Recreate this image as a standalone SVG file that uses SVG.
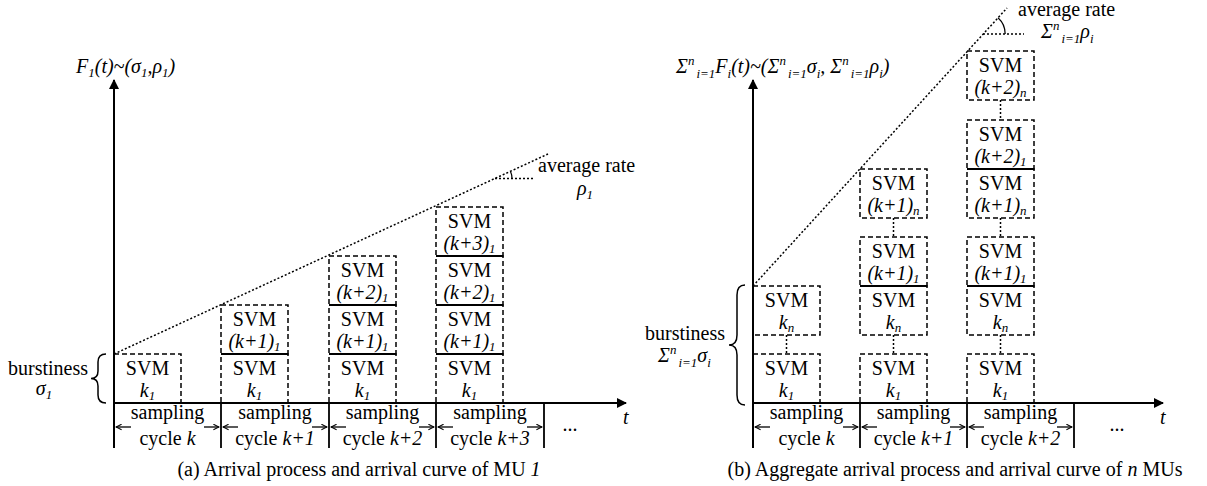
<svg xmlns="http://www.w3.org/2000/svg" width="1207" height="486" viewBox="0 0 1207 486" font-family="'Liberation Serif', 'DejaVu Serif', serif">
<defs>
<marker id="ah" viewBox="0 0 10 10" refX="9" refY="5" markerWidth="10" markerHeight="10" markerUnits="userSpaceOnUse" orient="auto"><path d="M0,0 L10,5 L0,10 z" fill="#000"/></marker>
<marker id="sa" viewBox="0 0 10 10" refX="9" refY="5" markerWidth="7" markerHeight="7" markerUnits="userSpaceOnUse" orient="auto"><path d="M1,1 L9,5 L1,9" fill="none" stroke="#000" stroke-width="1.5"/></marker>
</defs>
<style>
text{font-family:'Liberation Serif','DejaVu Serif',serif;font-size:20px;fill:#000}
.c{text-anchor:middle}
.i{font-style:italic}
.s{font-size:13px}
.box{fill:none;stroke:#000;stroke-width:1.5;stroke-dasharray:5,3}
.div{stroke:#000;stroke-width:1.8}
.dot{fill:none;stroke:#000;stroke-width:1.5;stroke-dasharray:2,2}
.ax{fill:none;stroke:#000;stroke-width:2}
.cyc{stroke:#000;stroke-width:1.8}
.sa{stroke:#000;stroke-width:1.3;marker-end:url(#sa)}
</style>
<rect width="1207" height="486" fill="#fff"/>

<!-- ===== Panel (a) ===== -->
<g id="connectors-a">
<line class="ax" x1="114" y1="448" x2="114" y2="80" marker-end="url(#ah)"/>
<line class="ax" x1="114" y1="403" x2="626" y2="403" marker-end="url(#ah)"/>
<line class="cyc" x1="221" y1="403" x2="221" y2="448"/>
<line class="cyc" x1="329" y1="403" x2="329" y2="448"/>
<line class="cyc" x1="436" y1="403" x2="436" y2="448"/>
<line class="cyc" x1="544" y1="403" x2="544" y2="448"/>
<line class="dot" x1="114" y1="354" x2="548" y2="154"/>
<line class="dot" x1="495" y1="178.4" x2="533" y2="178.4"/>
<path d="M510.4,171.3 A17,17 0 0,1 512,178.4" fill="none" stroke="#000" stroke-width="1.2"/>
<path d="M106,354 Q98,354 98,362 L98,371 Q98,378.5 91,378.5 Q98,378.5 98,386 L98,395 Q98,403 106,403" fill="none" stroke="#000" stroke-width="1.5"/>
<line class="sa" x1="131" y1="427" x2="116" y2="427"/>
<line class="sa" x1="204" y1="427" x2="219" y2="427"/>
<line class="sa" x1="238" y1="427" x2="223" y2="427"/>
<line class="sa" x1="312" y1="427" x2="327" y2="427"/>
<line class="sa" x1="346" y1="427" x2="331" y2="427"/>
<line class="sa" x1="419" y1="427" x2="434" y2="427"/>
<line class="sa" x1="453" y1="427" x2="438" y2="427"/>
<line class="sa" x1="527" y1="427" x2="542" y2="427"/>
</g>

<g id="label-a">
<text x="76" y="73" class="i">F<tspan class="s" dy="4">1</tspan><tspan dy="-4">(t)~(σ</tspan><tspan class="s" dy="4">1</tspan><tspan dy="-4">,ρ</tspan><tspan class="s" dy="4">1</tspan><tspan dy="-4">)</tspan></text>
<text x="538" y="172">average rate</text>
<text x="577" y="195" class="i">ρ<tspan class="s" dy="4">1</tspan></text>
<text x="48" y="375" class="c">burstiness</text>
<text x="44" y="395" class="c i">σ<tspan class="s" dy="4">1</tspan></text>
<text x="623" y="424" class="i">t</text>
<text x="570" y="431" class="c">...</text>
</g>

<g id="a-col1">
<rect class="box" x="114" y="354" width="67" height="49"/>
<text x="147.5" y="375" class="c">SVM</text>
<text x="147.5" y="397" class="c i">k<tspan class="s" dy="3">1</tspan></text>
</g>
<g id="a-col2">
<rect class="box" x="221" y="354" width="67" height="49"/>
<rect class="box" x="221" y="305" width="67" height="49"/>
<line class="div" x1="221" y1="354" x2="288" y2="354"/>
<text x="254.5" y="326" class="c">SVM</text>
<text x="254.5" y="348" class="c i">(k+1)<tspan class="s" dy="3">1</tspan></text>
<text x="254.5" y="375" class="c">SVM</text>
<text x="254.5" y="397" class="c i">k<tspan class="s" dy="3">1</tspan></text>
</g>
<g id="a-col3">
<rect class="box" x="329" y="354" width="67" height="49"/>
<rect class="box" x="329" y="305" width="67" height="49"/>
<rect class="box" x="329" y="256" width="67" height="49"/>
<line class="div" x1="329" y1="354" x2="396" y2="354"/>
<line class="div" x1="329" y1="305" x2="396" y2="305"/>
<text x="362.5" y="277" class="c">SVM</text>
<text x="362.5" y="299" class="c i">(k+2)<tspan class="s" dy="3">1</tspan></text>
<text x="362.5" y="326" class="c">SVM</text>
<text x="362.5" y="348" class="c i">(k+1)<tspan class="s" dy="3">1</tspan></text>
<text x="362.5" y="375" class="c">SVM</text>
<text x="362.5" y="397" class="c i">k<tspan class="s" dy="3">1</tspan></text>
</g>
<g id="a-col4">
<rect class="box" x="436" y="354" width="67" height="49"/>
<rect class="box" x="436" y="305" width="67" height="49"/>
<rect class="box" x="436" y="256" width="67" height="49"/>
<rect class="box" x="436" y="207" width="67" height="49"/>
<line class="div" x1="436" y1="354" x2="503" y2="354"/>
<line class="div" x1="436" y1="305" x2="503" y2="305"/>
<line class="div" x1="436" y1="256" x2="503" y2="256"/>
<text x="469.5" y="228" class="c">SVM</text>
<text x="469.5" y="250" class="c i">(k+3)<tspan class="s" dy="3">1</tspan></text>
<text x="469.5" y="277" class="c">SVM</text>
<text x="469.5" y="299" class="c i">(k+2)<tspan class="s" dy="3">1</tspan></text>
<text x="469.5" y="326" class="c">SVM</text>
<text x="469.5" y="348" class="c i">(k+1)<tspan class="s" dy="3">1</tspan></text>
<text x="469.5" y="375" class="c">SVM</text>
<text x="469.5" y="397" class="c i">k<tspan class="s" dy="3">1</tspan></text>
</g>
<g id="a-cycles">
<text x="167.5" y="419" class="c">sampling</text>
<text x="167.5" y="445" class="c">cycle <tspan class="i">k</tspan></text>
<text x="275" y="419" class="c">sampling</text>
<text x="275" y="445" class="c">cycle <tspan class="i">k+1</tspan></text>
<text x="382.5" y="419" class="c">sampling</text>
<text x="382.5" y="445" class="c">cycle <tspan class="i">k+2</tspan></text>
<text x="490" y="419" class="c">sampling</text>
<text x="490" y="445" class="c">cycle <tspan class="i">k+3</tspan></text>
</g>
<text x="359" y="476" class="c">(a) Arrival process and arrival curve of MU <tspan class="i">1</tspan></text>

<!-- ===== Panel (b) ===== -->
<g id="connectors-b">
<line class="ax" x1="753" y1="448" x2="753" y2="80" marker-end="url(#ah)"/>
<line class="ax" x1="753" y1="403" x2="1163" y2="403" marker-end="url(#ah)"/>
<line class="cyc" x1="860" y1="403" x2="860" y2="448"/>
<line class="cyc" x1="967" y1="403" x2="967" y2="448"/>
<line class="cyc" x1="1074" y1="403" x2="1074" y2="448"/>
<line class="dot" x1="753" y1="286" x2="1007" y2="8"/>
<line class="dot" x1="983" y1="34" x2="1024" y2="34"/>
<path d="M998,17.8 A22,22 0 0,1 1005.2,34" fill="none" stroke="#000" stroke-width="1.2"/>
<path d="M745,285 Q737,285 737,295 L737,335 Q737,345 729,345 Q737,345 737,355 L737,395 Q737,405 745,405" fill="none" stroke="#000" stroke-width="1.5"/>
<line class="dot" x1="786.5" y1="335" x2="786.5" y2="354"/>
<line class="dot" x1="893.5" y1="335" x2="893.5" y2="354"/>
<line class="dot" x1="893.5" y1="218" x2="893.5" y2="237"/>
<line class="dot" x1="1000.5" y1="335" x2="1000.5" y2="354"/>
<line class="dot" x1="1000.5" y1="218" x2="1000.5" y2="237"/>
<line class="dot" x1="1000.5" y1="100" x2="1000.5" y2="120"/>
<line class="sa" x1="770" y1="427" x2="755" y2="427"/>
<line class="sa" x1="843" y1="427" x2="858" y2="427"/>
<line class="sa" x1="877" y1="427" x2="862" y2="427"/>
<line class="sa" x1="950" y1="427" x2="965" y2="427"/>
<line class="sa" x1="984" y1="427" x2="969" y2="427"/>
<line class="sa" x1="1057" y1="427" x2="1072" y2="427"/>
</g>

<g id="label-b">
<text x="676" y="73" class="i">Σ<tspan class="s" dy="-8">n</tspan><tspan class="s" dx="2" dy="13">i=1</tspan><tspan dy="-5">F</tspan><tspan class="s" dy="5">i</tspan><tspan dy="-5">(t)~(Σ</tspan><tspan class="s" dy="-8">n</tspan><tspan class="s" dx="2" dy="13">i=1</tspan><tspan dy="-5">σ</tspan><tspan class="s" dy="5">i</tspan><tspan dy="-5">, Σ</tspan><tspan class="s" dy="-8">n</tspan><tspan class="s" dx="2" dy="13">i=1</tspan><tspan dy="-5">ρ</tspan><tspan class="s" dy="5">i</tspan><tspan dy="-5">)</tspan></text>
<text x="1018" y="16">average rate</text>
<text x="1041" y="38" class="i">Σ<tspan class="s" dy="-8">n</tspan><tspan class="s" dx="2" dy="13">i=1</tspan><tspan dy="-5">ρ</tspan><tspan class="s" dy="5">i</tspan></text>
<text x="685" y="340" class="c">burstiness</text>
<text x="658" y="362" class="i">Σ<tspan class="s" dy="-8">n</tspan><tspan class="s" dx="2" dy="13">i=1</tspan><tspan dy="-5">σ</tspan><tspan class="s" dy="5">i</tspan></text>
<text x="1160" y="424" class="i">t</text>
<text x="1117" y="431" class="c">...</text>
</g>

<g id="b-col1">
<rect class="box" x="753" y="354" width="67" height="49"/>
<rect class="box" x="753" y="286" width="67" height="49"/>
<text x="786.5" y="307" class="c">SVM</text>
<text x="786.5" y="329" class="c i">k<tspan class="s" dy="3">n</tspan></text>
<text x="786.5" y="375" class="c">SVM</text>
<text x="786.5" y="397" class="c i">k<tspan class="s" dy="3">1</tspan></text>
</g>
<g id="b-col2">
<rect class="box" x="860" y="354" width="67" height="49"/>
<rect class="box" x="860" y="286" width="67" height="49"/>
<rect class="box" x="860" y="237" width="67" height="49"/>
<rect class="box" x="860" y="169" width="67" height="49"/>
<line class="div" x1="860" y1="286" x2="927" y2="286"/>
<text x="893.5" y="190" class="c">SVM</text>
<text x="893.5" y="212" class="c i">(k+1)<tspan class="s" dy="3">n</tspan></text>
<text x="893.5" y="258" class="c">SVM</text>
<text x="893.5" y="280" class="c i">(k+1)<tspan class="s" dy="3">1</tspan></text>
<text x="893.5" y="307" class="c">SVM</text>
<text x="893.5" y="329" class="c i">k<tspan class="s" dy="3">n</tspan></text>
<text x="893.5" y="375" class="c">SVM</text>
<text x="893.5" y="397" class="c i">k<tspan class="s" dy="3">1</tspan></text>
</g>
<g id="b-col3">
<rect class="box" x="967" y="354" width="67" height="49"/>
<rect class="box" x="967" y="286" width="67" height="49"/>
<rect class="box" x="967" y="237" width="67" height="49"/>
<rect class="box" x="967" y="169" width="67" height="49"/>
<rect class="box" x="967" y="120" width="67" height="49"/>
<rect class="box" x="967" y="51" width="67" height="49"/>
<line class="div" x1="967" y1="286" x2="1034" y2="286"/>
<line class="div" x1="967" y1="169" x2="1034" y2="169"/>
<text x="1000.5" y="72" class="c">SVM</text>
<text x="1000.5" y="94" class="c i">(k+2)<tspan class="s" dy="3">n</tspan></text>
<text x="1000.5" y="141" class="c">SVM</text>
<text x="1000.5" y="163" class="c i">(k+2)<tspan class="s" dy="3">1</tspan></text>
<text x="1000.5" y="190" class="c">SVM</text>
<text x="1000.5" y="212" class="c i">(k+1)<tspan class="s" dy="3">n</tspan></text>
<text x="1000.5" y="258" class="c">SVM</text>
<text x="1000.5" y="280" class="c i">(k+1)<tspan class="s" dy="3">1</tspan></text>
<text x="1000.5" y="307" class="c">SVM</text>
<text x="1000.5" y="329" class="c i">k<tspan class="s" dy="3">n</tspan></text>
<text x="1000.5" y="375" class="c">SVM</text>
<text x="1000.5" y="397" class="c i">k<tspan class="s" dy="3">1</tspan></text>
</g>
<g id="b-cycles">
<text x="806.5" y="419" class="c">sampling</text>
<text x="806.5" y="445" class="c">cycle <tspan class="i">k</tspan></text>
<text x="913.5" y="419" class="c">sampling</text>
<text x="913.5" y="445" class="c">cycle <tspan class="i">k+1</tspan></text>
<text x="1020.5" y="419" class="c">sampling</text>
<text x="1020.5" y="445" class="c">cycle <tspan class="i">k+2</tspan></text>
</g>
<text x="955" y="476" class="c">(b) Aggregate arrival process and arrival curve of <tspan class="i">n</tspan> MUs</text>
</svg>
